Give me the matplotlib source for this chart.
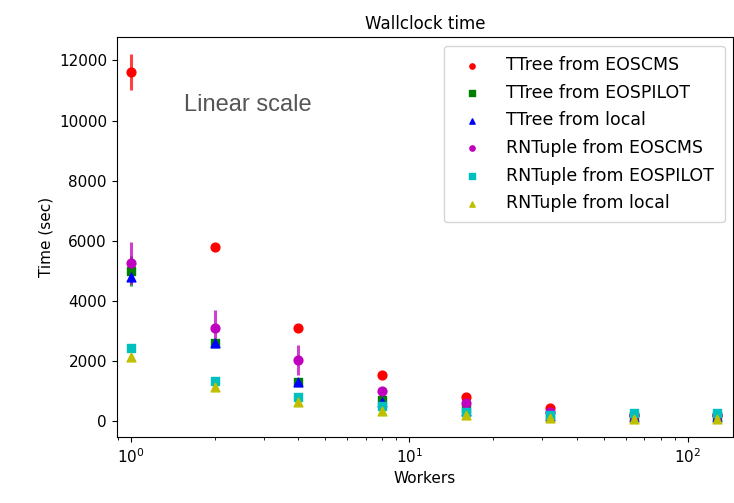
import matplotlib
matplotlib.use('Agg')
import matplotlib.pyplot as plt

workers = [1, 2, 4, 8, 16, 32, 64, 128]

ttree_eoscms = [11600, 5800, 3100, 1550, 800, 430, 220, 200]
ttree_eoscms_err = [600, 100, 80, 60, 40, 30, 20, 20]
ttree_eospilot = [5000, 2600, 1300, 700, 400, 200, 160, 160]
ttree_eospilot_err = [500, 100, 80, 50, 30, 20, 20, 20]
ttree_local = [4800, 2600, 1300, 650, 350, 180, 130, 130]
ttree_local_err = [150, 80, 60, 40, 30, 20, 20, 20]
rnt_eoscms = [5250, 3100, 2050, 1000, 600, 300, 200, 200]
rnt_eoscms_err = [700, 600, 500, 100, 60, 30, 20, 20]
rnt_eospilot = [2450, 1350, 800, 500, 300, 200, 270, 270]
rnt_eospilot_err = [100, 80, 60, 40, 30, 20, 20, 20]
rnt_local = [2150, 1150, 650, 350, 200, 120, 80, 80]
rnt_local_err = [100, 80, 60, 40, 30, 20, 20, 20]

series = [
    ('TTree from EOSCMS', ttree_eoscms, ttree_eoscms_err, 'r', 'o'),
    ('TTree from EOSPILOT', ttree_eospilot, ttree_eospilot_err, 'g', 's'),
    ('TTree from local', ttree_local, ttree_local_err, 'b', '^'),
    ('RNTuple from EOSCMS', rnt_eoscms, rnt_eoscms_err, 'm', 'o'),
    ('RNTuple from EOSPILOT', rnt_eospilot, rnt_eospilot_err, 'c', 's'),
    ('RNTuple from local', rnt_local, rnt_local_err, 'y', '^'),
]

fig = plt.figure(figsize=(7.34, 5.03), dpi=100)
ax = fig.add_axes([0.159, 0.131, 0.84, 0.795])

for label, y, err, col, mk in series:
    ax.errorbar(workers, y, yerr=err, fmt='none', ecolor=col, elinewidth=2.2,
                capsize=0, alpha=0.75)
    ax.scatter(workers, y, marker=mk, color=col, s=40, label=label, zorder=3)

ax.set_xscale('log')
ax.set_xlim(0.89, 146)
ax.set_ylim(-530, 12770)
ax.set_yticks(range(0, 12001, 2000))
ax.tick_params(labelsize=11)
ax.set_title('Wallclock time', fontsize=12)
ax.set_xlabel('Workers', fontsize=11)
ax.set_ylabel('Time (sec)', fontsize=11)
ax.legend(fontsize=12.5, loc='upper right', markerscale=0.6, handletextpad=1.0,
          labelspacing=0.55, borderpad=0.6)
ax.text(1.55, 10300, 'Linear scale', fontsize=17, color='#555555',
        family='Liberation Sans')

plt.savefig('out.png', dpi=100)
